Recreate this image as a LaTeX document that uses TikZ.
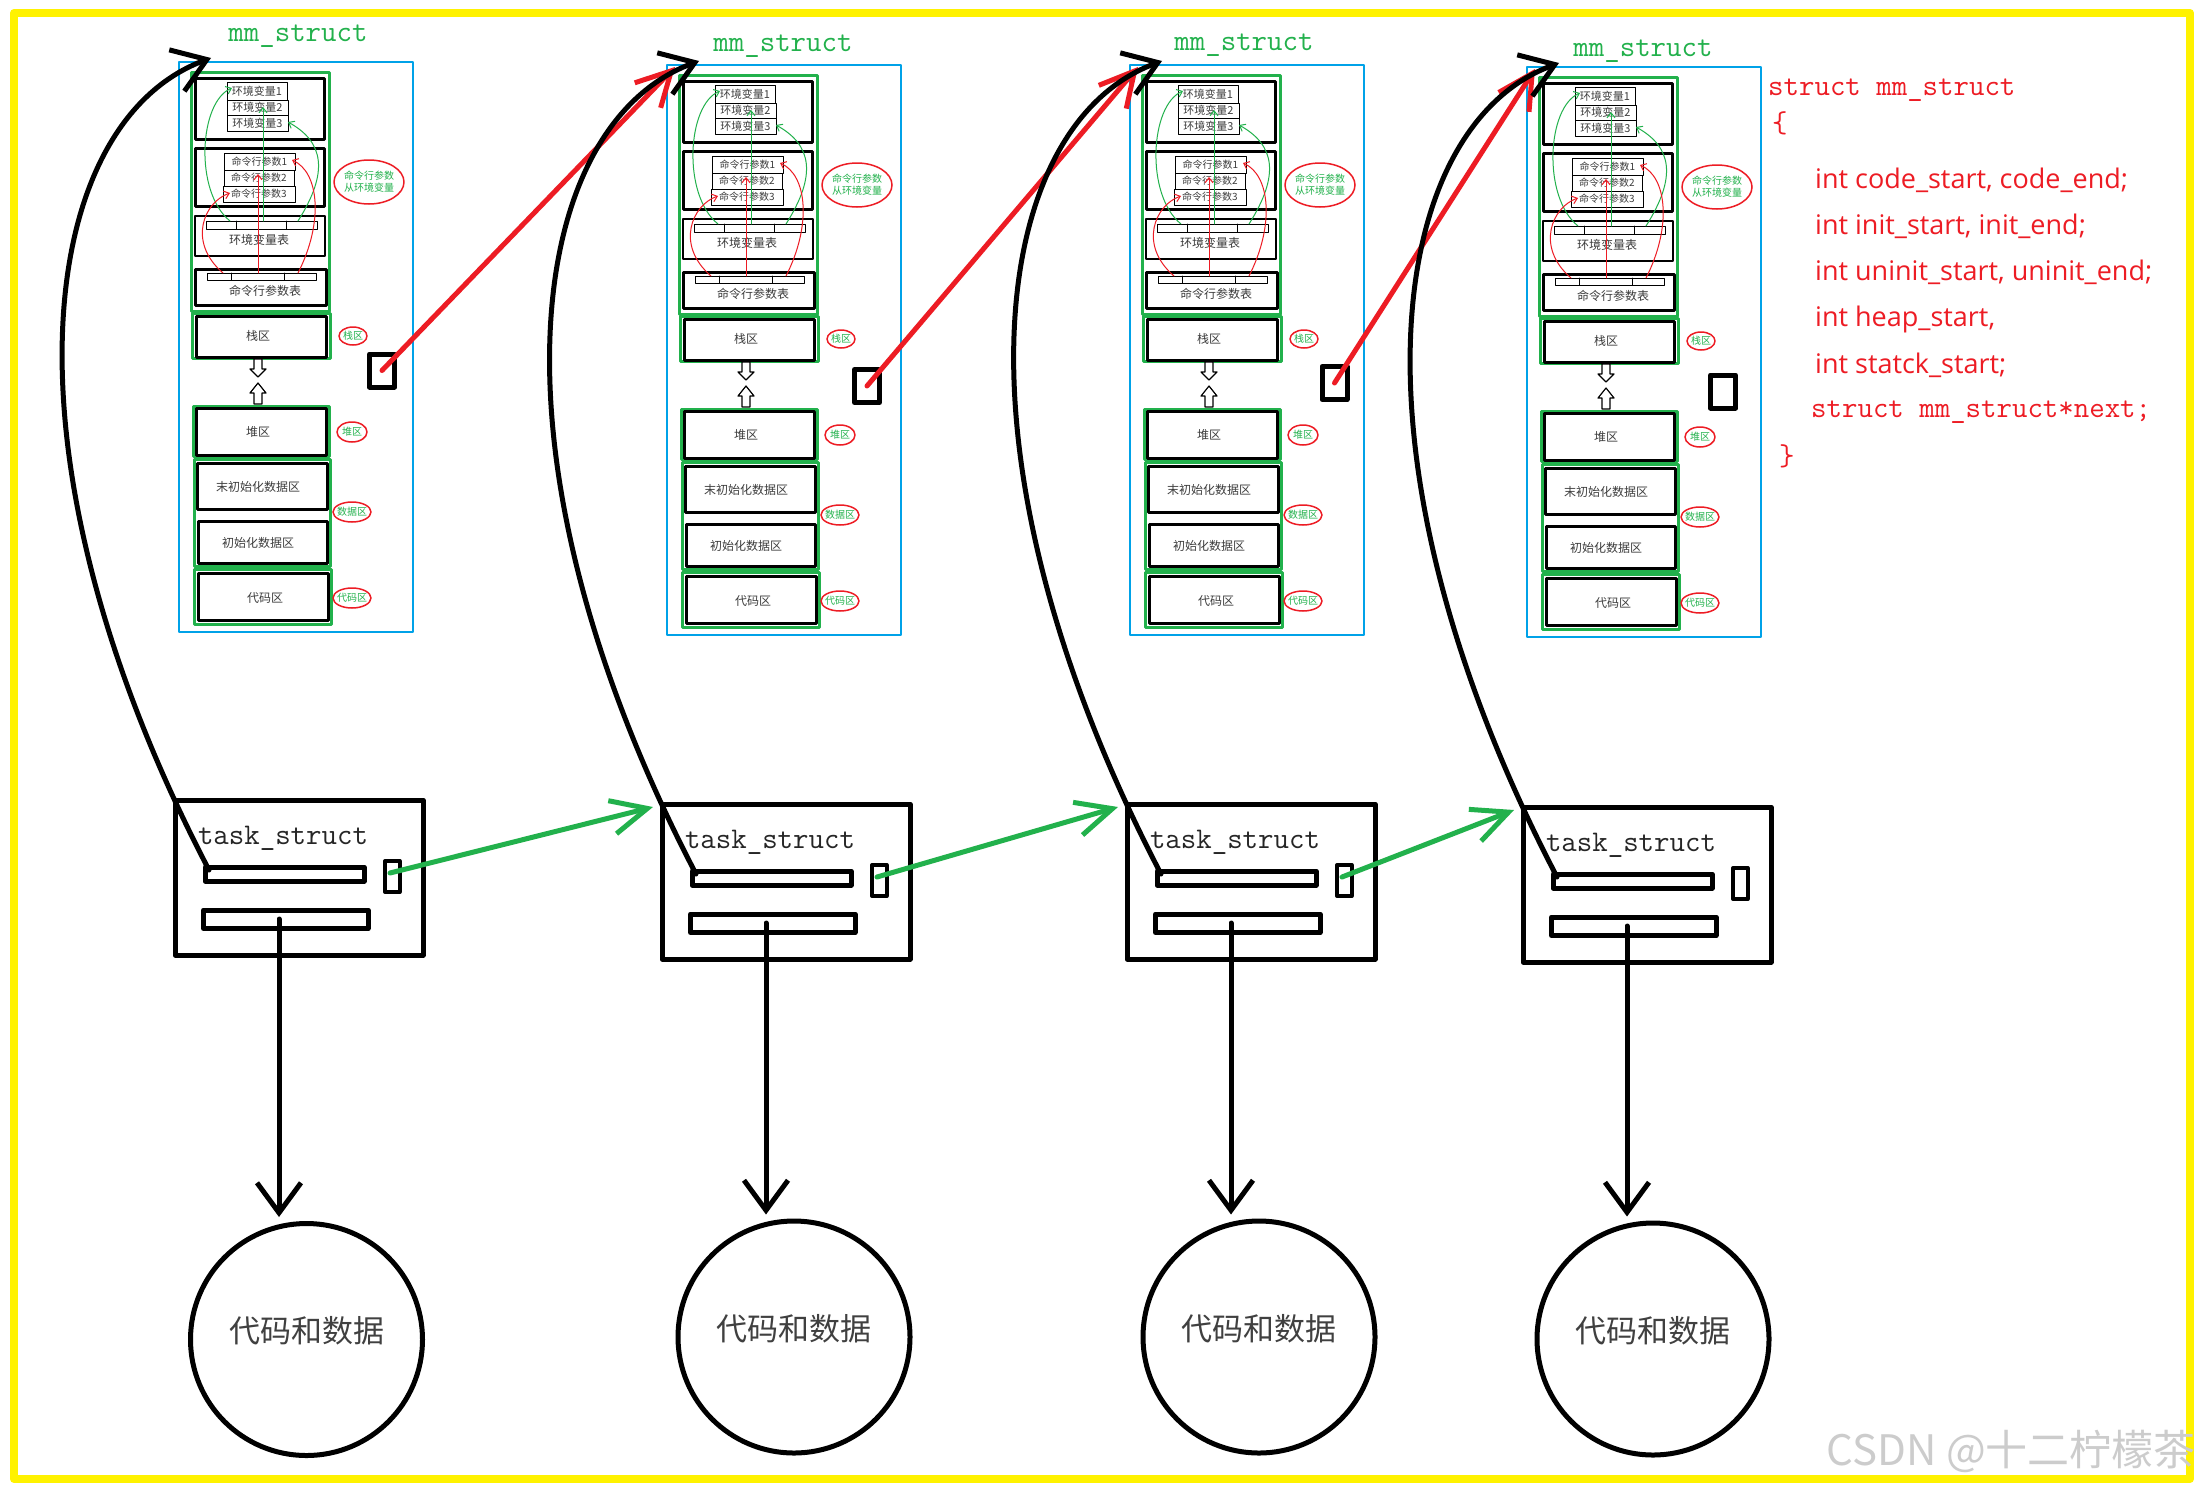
\documentclass[tikz,border=0pt]{standalone}
\usepackage{fontspec}
\newfontfamily\cjk{Noto Sans CJK SC}
\newfontfamily\osans{Open Sans}
\usetikzlibrary{arrows.meta,shapes.geometric,calc}
\definecolor{pyellow}{RGB}{255,242,0}
\definecolor{pblue}{RGB}{0,162,232}
\definecolor{pgreen}{RGB}{34,177,76}
\definecolor{pred}{RGB}{237,28,36}
\definecolor{ptext}{RGB}{60,60,60}
\newcommand\fs[1]{\fontsize{#1pt}{#1pt}\selectfont}
\begin{document}
\begin{tikzpicture}[x=1pt,y=-1pt,line cap=round,line join=round,
  every node/.style={inner sep=0pt},
  tx10/.style={font=\cjk\fs{10}, text=ptext},
  tx11/.style={font=\cjk\fs{11}, text=ptext},
  tx12/.style={font=\cjk\fs{12}, text=ptext},
  lbl/.style={font=\cjk\fs{10}, text=pgreen},
  lblring/.style={draw=pred, line width=1.5pt},
  thinbox/.style={draw=black, line width=1pt},
  midbox/.style={draw=black, line width=2pt},
  thickbox/.style={draw=black, line width=3pt},
  grnbox/.style={draw=pgreen, line width=3pt},
  garrow/.style={draw=pgreen, line width=1pt, -{Straight Barb[length=5pt,width=8pt]}},
  rarrow/.style={draw=pred, line width=1pt, -{Straight Barb[length=5pt,width=8pt]}},
  hollow/.style={draw=black, line width=1.2pt, fill=white},
  blk/.style={draw=black, line width=5pt},
  blk4/.style={draw=black, line width=4pt},
  tasktext/.style={font=\ttfamily\fs{30}, text=black!85},
  mmlabel/.style={font=\ttfamily\fs{30}, text=pgreen, anchor=base},
  bcurve/.style={draw=black, line width=5pt, -{Straight Barb[length=32pt,width=44pt]}},
  gbig/.style={draw=pgreen, line width=5pt, -{Straight Barb[length=36pt,width=34pt]}},
  rbig/.style={draw=pred, line width=5pt, -{Straight Barb[length=34pt,width=36pt]}},
  darr/.style={draw=black, line width=5pt, -{Straight Barb[length=30pt,width=44pt]}},
  sqr/.style={draw=black, line width=5pt, minimum width=25pt, minimum height=33pt},
  disk/.style={circle, draw=black, line width=5pt, minimum size=232pt},
  disktext/.style={font=\cjk\fs{31}, text=black!75},
  codemono/.style={font=\ttfamily\fs{30}, text=pred, anchor=base west},
  codesans/.style={font=\osans\fs{27}, text=pred, anchor=base west},
  mmblock/.pic={
    \draw[draw=pblue, line width=2pt] (0,0) rectangle (234,570);
    % upper group: environment and arguments
    \draw[grnbox] (12,10) rectangle (150,249);
    \draw[thickbox] (16,16) rectangle (145,77);
    \draw[thinbox] (48,20) rectangle (108,38);
    \draw[thinbox] (48,38) rectangle (109,53);
    \draw[thinbox] (48,53) rectangle (109,69);
    \node[tx11] (-e1) at (78,29) {环境变量1};
    \node[tx11] (-e2) at (78.5,45.5) {环境变量2};
    \node[tx11] (-e3) at (78.5,61) {环境变量3};
    \draw[thickbox] (16,86) rectangle (145,144);
    \draw[thinbox] (45,91) rectangle (116,108);
    \draw[thinbox] (45,108) rectangle (115,124);
    \draw[thinbox] (44,124) rectangle (116,140);
    \node[tx10] (-a1) at (80.5,99.5) {命令行参数1};
    \node[tx10] (-a2) at (80,116) {命令行参数2};
    \node[tx10] (-a3) at (80,132) {命令行参数3};
    \draw[midbox] (16,154) rectangle (146,194);
    \draw[thinbox] (27,159) rectangle (138,167) (57,159) -- (57,167) (107,159) -- (107,167);
    \node[tx12] (-et) at (80,178) {环境变量表};
    \draw[thickbox] (16,207) rectangle (147,243);
    \draw[thinbox] (28,211) rectangle (137,218) (52,211) -- (52,218) (105,211) -- (105,218);
    \node[tx12] (-at) at (86,229) {命令行参数表};
    % pointer arrows
    \draw[garrow] (51,159) .. controls (15,130) and (20,40) .. (53,26);
    \draw[garrow] (84,159) -- (84,45);
    \draw[garrow] (119,159) .. controls (150,110) and (145,80) .. (109,60);
    \draw[rarrow] (44,211) .. controls (8,180) and (25,140) .. (51,131);
    \draw[rarrow] (79,211) -- (79,112);
    \draw[rarrow] (119,211) .. controls (145,160) and (140,110) .. (113,98);
    % stack
    \draw[grnbox] (13,251) rectangle (151,296);
    \draw[thickbox] (17,254) rectangle (147,295);
    \node[tx12] (-stk) at (79,274) {栈区};
    \draw[hollow] (75,297) -- (83,297) -- (83,307) -- (87,307) -- (79,315) -- (71,307) -- (75,307) -- cycle;
    \draw[hollow] (75,342) -- (83,342) -- (83,331) -- (87,331) -- (79,321) -- (71,331) -- (75,331) -- cycle;
    % heap
    \draw[grnbox] (14,344) rectangle (150,394);
    \draw[thickbox] (17,346) rectangle (147,393);
    \node[tx12] (-hp) at (79,370) {堆区};
    % data
    \draw[grnbox] (15,397) rectangle (151,504);
    \draw[thickbox] (18,401) rectangle (148,447);
    \node[tx12] (-ud) at (79,425) {末初始化数据区};
    \draw[thickbox] (19,459) rectangle (148,501);
    \node[tx12] (-id) at (79,481) {初始化数据区};
    % code
    \draw[grnbox] (15,507) rectangle (152,562);
    \draw[thickbox] (19,511) rectangle (149,558);
    \node[tx12] (-cd) at (86,536) {代码区};
    % labels on the right
    \draw[lblring] (190,120) ellipse [x radius=35, y radius=22];
    \node[lbl, align=center] (-l1) at (190,120) {命令行参数\\[2pt]从环境变量};
    \draw[lblring] (174,274) ellipse [x radius=14, y radius=9];
    \node[lbl] (-l2) at (174,274) {栈区};
    \draw[lblring] (173,370) ellipse [x radius=15, y radius=10];
    \node[lbl] (-l3) at (173,370) {堆区};
    \draw[lblring] (173,450) ellipse [x radius=19, y radius=10];
    \node[lbl] (-l4) at (173,450) {数据区};
    \draw[lblring] (173,536) ellipse [x radius=19, y radius=10];
    \node[lbl] (-l5) at (173,536) {代码区};
    \coordinate (-tip) at (32,-4);
    \coordinate (-rt) at (8,2);
  },
  task/.pic={
    \draw[blk] (2,2) rectangle (250,157);
    \node[tasktext] (-name) at (110,40) {task\_struct};
    \draw[blk] (32,69) rectangle (191,83);
    \draw[blk] (30.5,112) rectangle (195,130.5);
    \draw[blk4] (212,63) rectangle (226.5,94);
    \coordinate (-up) at (36,72);
    \coordinate (-dn) at (106,121);
    \coordinate (-nx) at (217,75);
    \coordinate (-in) at (-7,5);
  }
]
\useasboundingbox (0,0) rectangle (2202,1491);
\fill[white] (0,0) rectangle (2202,1491);
\draw[draw=pyellow, line width=8pt] (14,13) rectangle (2190,1479);

% mm_struct blocks
\pic (m1) at (179,62) {mmblock};
\pic (m2) at (667,65) {mmblock};
\pic (m3) at (1130,65) {mmblock};
\pic (m4) at (1527,67) {mmblock};
\node[mmlabel] (n1) at (298,41) {mm\_struct};
\node[mmlabel] (n2) at (783,51) {mm\_struct};
\node[mmlabel] (n3) at (1244,50) {mm\_struct};
\node[mmlabel] (n4) at (1643,56) {mm\_struct};

% next pointers of mm_struct
\node[sqr] (q1) at (382,370.5) {};
\node[sqr] (q2) at (867,386) {};
\node[sqr] (q3) at (1334.5,383) {};
\node[sqr] (q4) at (1723,391.5) {};

% task_struct boxes
\pic (t1) at (173,798) {task};
\pic (t2) at (660,802) {task};
\pic (t3) at (1125,802) {task};
\pic (t4) at (1521,805) {task};

% code and data circles
\node[disk] (c1) at (306.5,1339.5) {};
\node[disk] (c2) at (794,1337) {};
\node[disk] (c3) at (1259,1337) {};
\node[disk] (c4) at (1653,1339) {};
\node[disktext] (d1) at (306.5,1331) {代码和数据};
\node[disktext] (d2) at (794,1329) {代码和数据};
\node[disktext] (d3) at (1259,1329) {代码和数据};
\node[disktext] (d4) at (1653,1331) {代码和数据};
\coordinate (e1) at (t1-dn |- c1.north);
\coordinate (e2) at (t2-dn |- c2.north);
\coordinate (e3) at (t3-dn |- c3.north);
\coordinate (e4) at (t4-dn |- c4.north);
\draw[darr] (t1-dn) -- ([yshift=4pt]e1);
\draw[darr] (t2-dn) -- ([yshift=4pt]e2);
\draw[darr] (t3-dn) -- ([yshift=4pt]e3);
\draw[darr] (t4-dn) -- ([yshift=4pt]e4);

% red links between mm_structs
\draw[rbig] (q1.center) -- (m2-rt);
\draw[rbig] (q2.center) -- (m3-rt);
\draw[rbig] (q3.center) -- (m4-rt);

% task_struct -> mm_struct
\draw[bcurve] (t1-up) .. controls +(-219,-420) and +(-172,63) .. (m1-tip);
\draw[bcurve] (t2-up) .. controls +(-219,-420) and +(-172,63) .. (m2-tip);
\draw[bcurve] (t3-up) .. controls +(-219,-420) and +(-172,63) .. (m3-tip);
\draw[bcurve] (t4-up) .. controls +(-219,-420) and +(-172,63) .. (m4-tip);

% task_struct -> next task_struct
\draw[gbig] (t1-nx) -- (t2-in);
\draw[gbig] (t2-nx) -- (t3-in);
\draw[gbig] (t3-nx) -- (t4-in);

% struct definition
\node[codemono] (s0) at (1768,95) {struct mm\_struct};
\node[codemono] (s1) at (1772,132) {\{};
\node[codesans] (s2) at (1815,188) {int code\_start, code\_end;};
\node[codesans] (s3) at (1815,234) {int init\_start, init\_end;};
\node[codesans] (s4) at (1815,280) {int uninit\_start, uninit\_end;};
\node[codesans] (s5) at (1815,326) {int heap\_start,};
\node[codesans] (s6) at (1815,373) {int statck\_start;};
\node[codemono] (s7) at (1811,417) {struct mm\_struct*next;};
\node[codemono] (s8) at (1779,465) {\}};

% watermark
\node[font=\cjk\fs{42}, text=gray!40, anchor=east] (wm) at (2196,1451) {CSDN @十二柠檬茶};
\end{tikzpicture}
\end{document}
